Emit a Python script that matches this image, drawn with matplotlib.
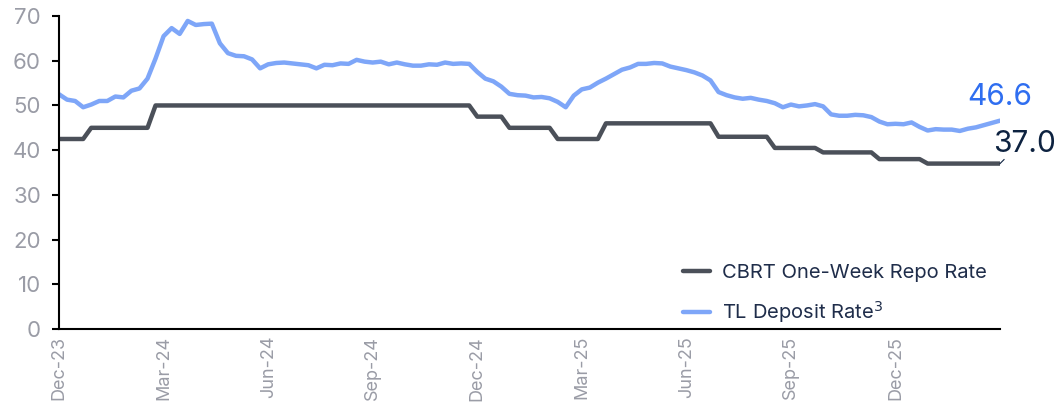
import numpy as np
import pandas as pd
import matplotlib
matplotlib.use("Agg")
import matplotlib.pyplot as plt

plt.rcParams['font.family'] = ['Inter', 'DejaVu Sans']

# weekly data, Friday 29 Dec 2023 onwards
start_date = "2023-12-29"

repo_rate = [
    42.5, 42.5, 42.5, 42.5,
    45, 45, 45, 45, 45, 45, 45, 45,
    50, 50, 50, 50, 50, 50, 50, 50, 50, 50, 50, 50, 50, 50, 50, 50, 50, 50, 50, 50,
    50, 50, 50, 50, 50, 50, 50, 50, 50, 50, 50, 50, 50, 50, 50, 50, 50, 50, 50, 50,
    47.5, 47.5, 47.5, 47.5,
    45, 45, 45, 45, 45, 45,
    42.5, 42.5, 42.5, 42.5, 42.5, 42.5,
    46, 46, 46, 46, 46, 46, 46, 46, 46, 46, 46, 46, 46, 46,
    43, 43, 43, 43, 43, 43, 43,
    40.5, 40.5, 40.5, 40.5, 40.5, 40.5,
    39.5, 39.5, 39.5, 39.5, 39.5, 39.5, 39.5,
    38, 38, 38, 38, 38, 38,
    37, 37, 37, 37, 37, 37, 37, 37, 37, 37,
]

deposit_rate = [
    52.5, 51.3, 51.0, 49.6, 50.2, 51.0, 51.0, 52.0, 51.8, 53.3,
    53.8, 56.0, 60.5, 65.5, 67.3, 66.0, 68.9, 68.0, 68.2, 68.3,
    63.9, 61.7, 61.1, 61.0, 60.3, 58.3, 59.2, 59.5, 59.6, 59.4,
    59.2, 59.0, 58.3, 59.1, 59.0, 59.4, 59.3, 60.2, 59.8, 59.6,
    59.8, 59.2, 59.6, 59.2, 58.9, 58.9, 59.2, 59.1, 59.6, 59.3,
    59.4, 59.3, 57.5, 56.0, 55.4, 54.2, 52.6, 52.3, 52.2, 51.8,
    51.9, 51.6, 50.8, 49.6, 52.2, 53.6, 54.0, 55.1, 56.0, 57.0,
    58.0, 58.5, 59.3, 59.3, 59.5, 59.4, 58.7, 58.3, 57.9, 57.4,
    56.7, 55.6, 53.0, 52.3, 51.8, 51.5, 51.7, 51.3, 51.0, 50.5,
    49.6, 50.2, 49.8, 50.0, 50.3, 49.8, 48.0, 47.7, 47.7, 47.9,
    47.8, 47.4, 46.4, 45.8, 45.9, 45.8, 46.2, 45.2, 44.4, 44.7,
    44.6, 44.6, 44.3, 44.8, 45.1, 45.6, 46.1, 46.6,
]

dates = pd.date_range(start_date, periods=len(deposit_rate), freq="7D")
x = np.arange(len(dates))

fig = plt.figure(figsize=(10.58, 4.07), dpi=100)
ax = fig.add_axes([0.0558, 0.1916, 0.8894, 0.769])

ax.plot(x, repo_rate, color="#4b5059", lw=3.2, solid_capstyle="round",
        solid_joinstyle="round", label="CBRT One-Week Repo Rate")
ax.plot(x, deposit_rate, color="#7ea6f8", lw=3.2, solid_capstyle="round",
        solid_joinstyle="round", label="TL Deposit Rate$^3$")

ax.set_xlim(0, len(x) - 1)
ax.set_ylim(0, 70)
ax.set_yticks(range(0, 71, 10))

tick_pos = x[::13][:9]
ax.set_xticks(tick_pos)
ax.set_xticklabels([dates[i].strftime("%b-%y") for i in tick_pos], rotation=90)

ax.tick_params(axis="y", length=5, width=1.5, colors="black", labelcolor="#9a9ca6",
               labelsize=16, pad=8)
ax.tick_params(axis="x", length=0, labelcolor="#9a9ca6", labelsize=13, pad=5)

for s in ["top", "right"]:
    ax.spines[s].set_visible(False)
ax.spines["left"].set_linewidth(1.5)
ax.spines["bottom"].set_linewidth(1.5)

# end labels
ax.text(x[-1] - 0.1, deposit_rate[-1] + 5.4, f"{deposit_rate[-1]:.1f}",
        color="#2f6ef0", fontsize=21.5, ha="center", va="center")
ax.text(x[-1] + 3.0, repo_rate[-1] + 4.3, f"{repo_rate[-1]:.1f}",
        color="#0d2240", fontsize=21.5, ha="center", va="center", clip_on=False)
ax.plot([x[-1], x[-1] + 0.5], [repo_rate[-1], repo_rate[-1] + 0.9],
        color="#0d2240", lw=0.8, clip_on=False)

leg = ax.legend(loc="lower right", bbox_to_anchor=(1.005, -0.045), frameon=False,
                fontsize=14.5, handlelength=1.3, handletextpad=0.6, labelspacing=0.85)
for t in leg.get_texts():
    t.set_color("#1f2d4a")

fig.savefig("out.png", dpi=100)
